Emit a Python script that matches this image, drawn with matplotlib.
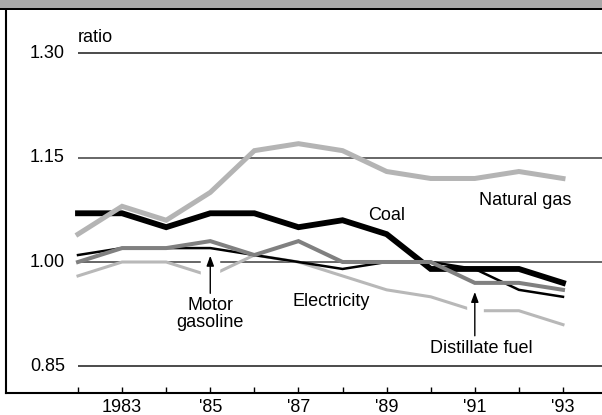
import matplotlib.pyplot as plt
from matplotlib.patches import Rectangle

plt.rcParams['font.family'] = ['Liberation Sans', 'DejaVu Sans']

years = list(range(1982, 1994))
natural_gas = [1.04, 1.08, 1.06, 1.10, 1.16, 1.17, 1.16, 1.13, 1.12, 1.12, 1.13, 1.12]
coal = [1.07, 1.07, 1.05, 1.07, 1.07, 1.05, 1.06, 1.04, 0.99, 0.99, 0.99, 0.97]
motor_gasoline = [1.01, 1.02, 1.02, 1.02, 1.01, 1.00, 0.99, 1.00, 1.00, 0.99, 0.96, 0.95]
distillate = [1.00, 1.02, 1.02, 1.03, 1.01, 1.03, 1.00, 1.00, 1.00, 0.97, 0.97, 0.96]
electricity = [0.98, 1.00, 1.00, 0.98, 1.01, 1.00, 0.98, 0.96, 0.95, 0.93, 0.93, 0.91]

y_ticks = [0.85, 1.00, 1.15, 1.30]
y_labels = ['0.85', '1.00', '1.15', '1.30']
x_labels = {1983: '1983', 1985: "'85", 1987: "'87", 1989: "'89", 1991: "'91", 1993: "'93"}

W, H = 602, 415
fig = plt.figure(figsize=(W / 100, H / 100), dpi=100)

# axes from the left border (x=6px) to the right edge, bottom line at y=393px
ax = fig.add_axes([6 / W, (H - 393) / H, (W - 6) / W, 383 / H])
px_year = 44.09
px_unit = 696.0
ax.set_xlim(1982 - 72 / px_year, 1982 + 524 / px_year)
ax.set_ylim(1.0 - 131 / px_unit, 1.0 + 252 / px_unit)

for s in ['top', 'right']:
    ax.spines[s].set_visible(False)
for s in ['left', 'bottom']:
    ax.spines[s].set_linewidth(1.5)
    ax.spines[s].set_color('black')

# grid lines
x_end = ax.get_xlim()[1]
grid_cols = {0.85: '#1a1a1a', 1.00: '#666666', 1.15: '#666666', 1.30: '#1a1a1a'}
grid_lw = {0.85: 1.1, 1.00: 1.4, 1.15: 1.4, 1.30: 1.1}
for v in y_ticks:
    ax.hlines(v, 1982, x_end, color=grid_cols[v], lw=grid_lw[v], zorder=1)
    ax.text(1982 - 0.3, v, y_labels[y_ticks.index(v)], ha='right', va='center', fontsize=13)
ax.text(1982, 1.322, 'ratio', ha='left', va='center', fontsize=13)
ax.set_yticks([])

ax.set_xticks(years)
ax.set_xticklabels([x_labels.get(y, '') for y in years], fontsize=13)
ax.tick_params(axis='x', direction='in', length=4.5, width=1, pad=4.5)

# lines
ax.plot(years, electricity, color='#b8b8b8', lw=2.2, zorder=2, solid_joinstyle='miter')
# white halos behind arrows
ax.plot([1985, 1985], [0.955, 1.008], color='white', lw=14, solid_capstyle='butt', zorder=2.5)
ax.plot([1991, 1991], [0.895, 0.955], color='white', lw=12, solid_capstyle='butt', zorder=2.5)
ax.plot(years, motor_gasoline, color='black', lw=1.8, zorder=3, solid_joinstyle='miter')
ax.plot(years, coal, color='black', lw=4.2, zorder=4, solid_joinstyle='miter')
ax.plot(years, distillate, color='#808080', lw=2.9, zorder=5, solid_joinstyle='miter')
ax.plot(years, natural_gas, color='#b4b4b4', lw=3.6, zorder=6, solid_joinstyle='miter')

arrow = dict(arrowstyle='-|>,head_length=0.6,head_width=0.22', color='black', lw=1, shrinkA=0, shrinkB=0)
ax.annotate('', xy=(1985, 1.009), xytext=(1985, 0.955), arrowprops=arrow, zorder=7)
ax.annotate('', xy=(1991, 0.957), xytext=(1991, 0.894), arrowprops=arrow, zorder=7)

ax.text(1985, 0.925, 'Motor\ngasoline', ha='center', va='center', fontsize=13, linespacing=1.0)
ax.text(1991.14, 0.876, 'Distillate fuel', ha='center', va='center', fontsize=13)
ax.text(1992.15, 1.089, 'Natural gas', ha='center', va='center', fontsize=13)
ax.text(1988.99, 1.0675, 'Coal', ha='center', va='center', fontsize=13)
ax.text(1987.74, 0.943, 'Electricity', ha='center', va='center', fontsize=13)

# header band
fig.patches.append(Rectangle((0, (H - 8.5) / H), 1, 8.5 / H, transform=fig.transFigure,
                             facecolor='#a8a8a8', edgecolor='none'))
fig.patches.append(Rectangle((0, (H - 10.5) / H), 1, 2.2 / H, transform=fig.transFigure,
                             facecolor='black', edgecolor='none'))

fig.savefig('out.png', dpi=100)
